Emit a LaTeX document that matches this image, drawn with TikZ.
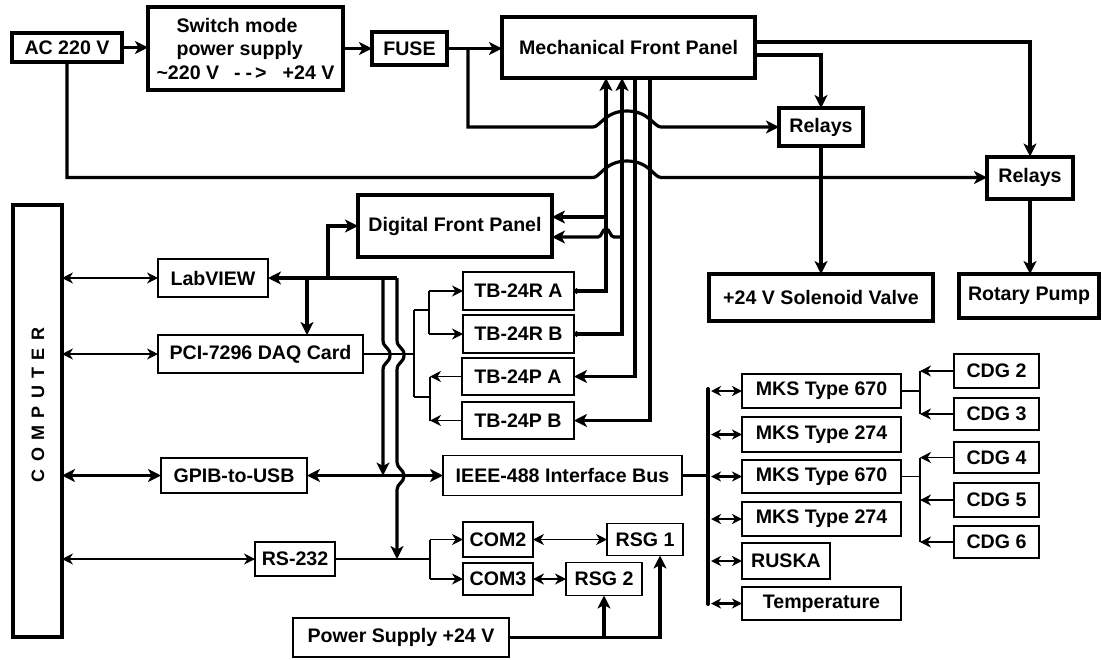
\documentclass[tikz,border=0pt]{standalone}
\usepackage{fontspec}
\setmainfont{Liberation Sans}
\usetikzlibrary{arrows.meta}
\begin{document}
\begin{tikzpicture}[x=1pt,y=-1pt,
  every node/.style={inner sep=0pt, outer sep=0pt, font=\fontsize{19.6}{23.5}\selectfont\bfseries},
  wh/.style 2 args={minimum width=#1pt, minimum height=#2pt},
  tbox/.style={draw, line width=4pt},
  nbox/.style={draw, line width=1.3pt},
  bigline/.style={line width=3.2pt},
  midline/.style={line width=2.2pt},
  thinline/.style={line width=1.2pt},
  bigtip/.tip={Stealth[length=13pt,width=13pt,inset=3.5pt]},
  stip/.tip={Stealth[length=11pt,width=11pt,inset=3.5pt]},
  mtip/.tip={Stealth[length=10pt,width=10pt,inset=3pt]},
  dottip/.tip={Circle[length=5pt]}
]
\useasboundingbox (0,0) rectangle (1102,659);

% ---------- boxes ----------
\node[tbox, wh={110}{29}] (ac) at (67,47.5) {AC 220 V};
\node[tbox, wh={195}{83}, align=left] (smps) at (245.5,48.5)
  {\hspace*{20pt}Switch mode\\\hspace*{20pt}power supply\\\textasciitilde220 V\hspace{15pt}-\hspace{5pt}-\hspace{3pt}>\hspace{16pt}+24 V};
\node[tbox, wh={75}{33}] (fuse) at (409.5,48.5) {FUSE};
\node[tbox, wh={253}{61}] (mfp) at (628.5,47.5) {Mechanical Front Panel};
\node[tbox, wh={84}{38}] (rel1) at (821,127) {Relays};
\node[tbox, wh={86}{42}] (rel2) at (1030,177.5) {Relays};
\node[tbox, wh={224}{47}] (sol) at (821,297.5) {+24 V Solenoid Valve};
\node[tbox, wh={140}{44}] (pump) at (1029,296) {Rotary Pump};
\node[tbox, wh={194}{62}] (dfp) at (455,226) {Digital Front Panel};
\node[tbox, wh={49}{432}] (comp) at (37.5,421) {};
\node[rotate=90, font=\fontsize{18}{20}\selectfont\bfseries] (comptxt) at (38,405)
  {C\hspace{7.3pt}O\hspace{7.3pt}M\hspace{7.3pt}P\hspace{7.3pt}U\hspace{7.3pt}T\hspace{7.3pt}E\hspace{7.3pt}R};

\node[nbox, wh={110}{38}] (lab) at (213,278) {LabVIEW};
\node[nbox, wh={205}{38}] (daq) at (260.5,354) {PCI-7296 DAQ Card};
\node[nbox, wh={146}{35}] (gpib) at (234,475.5) {GPIB-to-USB};
\node[nbox, wh={80}{34}] (rs) at (295,559) {RS-232};

\node[nbox, wh={111}{38}] (tbra) at (518.5,291) {TB-24R A};
\node[nbox, wh={111}{38}] (tbrb) at (518.5,334) {TB-24R B};
\node[nbox, wh={112}{37}] (tbpa) at (518,376.5) {TB-24P A};
\node[nbox, wh={112}{37}] (tbpb) at (518,420.5) {TB-24P B};

\node[nbox, wh={239}{40}] (ieee) at (562.5,475.5) {IEEE-488 Interface Bus};
\node[nbox, wh={70}{35}] (com2) at (498,539.5) {COM2};
\node[nbox, wh={70}{32}] (com3) at (498,579) {COM3};
\node[nbox, wh={76}{32}] (rsg1) at (645,539.5) {RSG 1};
\node[nbox, wh={76}{33}] (rsg2) at (604,579) {RSG 2};
\node[nbox, wh={216}{39}] (ps) at (401,637.5) {Power Supply +24 V};

\node[nbox, wh={159}{34}] (mks1) at (821.5,391) {MKS Type 670};
\node[nbox, wh={159}{35}] (mks2) at (821.5,434.5) {MKS Type 274};
\node[nbox, wh={159}{33}] (mks3) at (821.5,476.5) {MKS Type 670};
\node[nbox, wh={159}{34}] (mks4) at (821.5,519) {MKS Type 274};
\node[nbox, wh={88}{36}] (ruska) at (786,561) {RUSKA};
\node[nbox, wh={159}{33}] (temp) at (821.5,603.5) {Temperature};

\node[nbox, wh={85}{34}] (cdg2) at (996.5,371) {CDG 2};
\node[nbox, wh={85}{32}] (cdg3) at (996.5,414) {CDG 3};
\node[nbox, wh={85}{31}] (cdg4) at (996.5,457.5) {CDG 4};
\node[nbox, wh={85}{34}] (cdg5) at (996.5,500) {CDG 5};
\node[nbox, wh={85}{32}] (cdg6) at (996.5,542) {CDG 6};

% ---------- power chain ----------
\draw[bigline,-bigtip] (ac.east) -- (ac.east -| smps.west);
\draw[bigline,-bigtip] (smps.east) -- (fuse.west);
\draw[bigline,-bigtip] (fuse.east) -- (fuse.east -| mfp.west);
\draw[bigline,-bigtip] (468,48.5) -- (468,127) -- (593,127)
  .. controls (600,127) and (605,111) .. (627,111)
  .. controls (649,111) and (654,127) .. (661,127) -- (rel1.west);
\draw[bigline,-bigtip] (ac.south) -- (67,177.5) -- (593,177.5)
  .. controls (600,177.5) and (605,161) .. (627,161)
  .. controls (649,161) and (654,177.5) .. (661,177.5) -- (rel2.west);
\draw[bigline,-bigtip] (mfp.east |- 0,55) -- (821,55) -- (rel1.north);
\draw[bigline,-bigtip] (mfp.east |- 0,42) -- (1030,42) -- (rel2.north);
\draw[bigline,-bigtip] (rel1.south) -- (sol.north);
\draw[bigline,-bigtip] (rel2.south) -- (rel2.south |- pump.north);

% ---------- front panel wiring ----------
\draw[bigline,dottip-bigtip] (tbra.east) -- (606,291) -- (606,78);
\draw[bigline,dottip-bigtip] (tbrb.east) -- (622,334) -- (622,78);
\draw[bigline,-bigtip] (635,78) -- (635,376.5) -- (tbpa.east);
\draw[bigline,-bigtip] (650,78) -- (650,420.5) -- (tbpb.east);
\draw[bigline,-bigtip] (606,217) -- (dfp.east |- 0,217);
\draw[bigline,-bigtip] (622,237) -- (614,237)
  .. controls (610,237) and (610,229) .. (606,229)
  .. controls (602,229) and (602,237) .. (598,237) -- (dfp.east |- 0,237);

% ---------- LabVIEW bus ----------
\coordinate (lvc) at (397,278);
\draw[bigline,-bigtip] (lvc) -- (lab.east);
\draw[bigline,-bigtip] (lvc) -- (397,340)
  .. controls (397,348) and (404,347) .. (404,355)
  .. controls (404,363) and (397,362) .. (397,370) -- (397,462)
  .. controls (397,469) and (404,469) .. (404,476)
  .. controls (404,483) and (397,483) .. (397,490) -- (397,559);
\draw[bigline,-bigtip] (383,278) -- (383,340)
  .. controls (383,348) and (390,347) .. (390,355)
  .. controls (390,363) and (383,362) .. (383,370) -- (383,475.5);
\draw[bigline,-bigtip] (328,278) -- (328,226) -- (dfp.west);
\draw[bigline,-bigtip] (307,278) -- (307,278 |- daq.north);
\draw[bigline,bigtip-bigtip] (gpib.east) -- (ieee.west);

% ---------- computer links ----------
\draw[thinline,stip-stip] (comp.east |- lab) -- (lab.west);
\draw[thinline,stip-stip] (comp.east |- daq) -- (daq.west);
\draw[bigline,bigtip-bigtip] (comp.east |- gpib) -- (gpib.west);
\draw[thinline,stip-stip] (comp.east |- rs) -- (rs.west);

% ---------- DAQ to terminal boards ----------
\draw[thinline] (daq.east) -- (414,354) (414,310) -- (414,397)
  (414,310) -- (429,310) (429,291) -- (429,334)
  (414,397) -- (430,397) (430,376.5) -- (430,420.5);
\draw[thinline,-stip] (429,291) -- (tbra.west);
\draw[thinline,-stip] (429,334) -- (tbrb.west);
\draw[thinline,-stip] (tbpa.west) -- (430,376.5);
\draw[thinline,-stip] (tbpb.west) -- (430,420.5);

% ---------- RS-232 ----------
\draw[thinline] (rs.east) -- (430,559) (430,539.5) -- (430,579);
\draw[thinline,-stip] (430,539.5) -- (com2.west);
\draw[thinline,-stip] (430,579) -- (com3.west);
\draw[thinline,stip-stip] (com2.east) -- (rsg1.west);
\draw[midline,stip-stip] (com3.east) -- (rsg2.west);

% ---------- power supply ----------
\draw[bigline,-bigtip] (ps.east) -- (660,637.5) -- (660,637.5 |- rsg1.south);
\draw[bigline,-bigtip] (604,637.5) -- (rsg2.south);

% ---------- IEEE bus ----------
\draw[bigline] (ieee.east) -- (708,475.5);
\draw[line width=4pt,line cap=round] (708,389) -- (708,604);
\draw[midline,mtip-mtip] (711,391) -- (mks1.west);
\draw[midline,mtip-mtip] (711,434.5) -- (mks2.west);
\draw[midline,mtip-mtip] (711,476.5) -- (mks3.west);
\draw[midline,mtip-mtip] (711,519) -- (mks4.west);
\draw[midline,mtip-mtip] (711,561) -- (ruska.west);
\draw[midline,mtip-mtip] (711,603.5) -- (temp.west);

% ---------- gauges ----------
\draw[thinline] (mks1.east) -- (920,391) (920,371) -- (920,414);
\draw[thinline,-stip] (cdg2.west) -- (920,371);
\draw[thinline,-stip] (cdg3.west) -- (920,414);
\draw[thinline] (mks3.east) -- (920,476.5) (920,457.5) -- (920,542);
\draw[thinline,-stip] (cdg4.west) -- (920,457.5);
\draw[thinline,-stip] (cdg5.west) -- (920,500);
\draw[thinline,-stip] (cdg6.west) -- (920,542);
\end{tikzpicture}
\end{document}
